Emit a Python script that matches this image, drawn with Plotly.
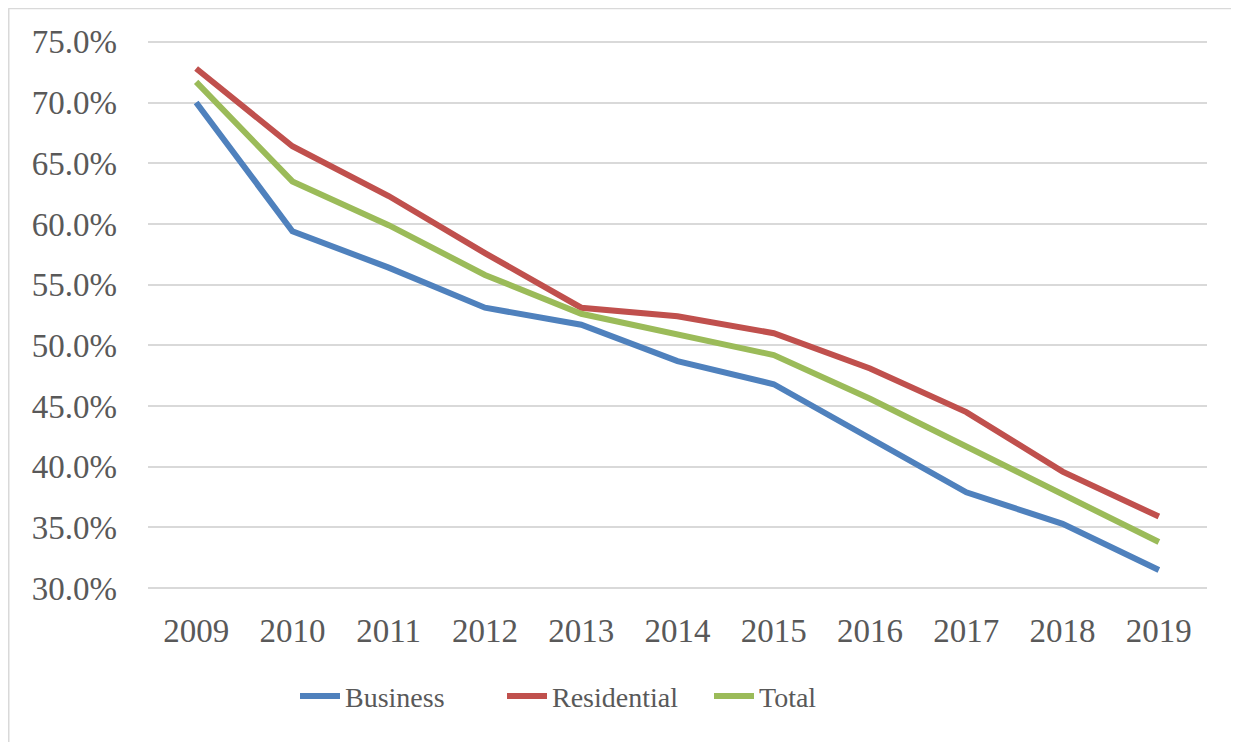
import plotly.graph_objects as go

years = ["2009", "2010", "2011", "2012", "2013", "2014", "2015", "2016", "2017", "2018", "2019"]
business = [70.0, 59.4, 56.4, 53.1, 51.7, 48.7, 46.8, 42.4, 37.9, 35.3, 31.5]
residential = [72.8, 66.4, 62.3, 57.6, 53.1, 52.4, 51.0, 48.1, 44.5, 39.6, 35.9]
total = [71.7, 63.5, 59.9, 55.8, 52.6, 50.9, 49.2, 45.6, 41.7, 37.7, 33.8]
y_ticks = [30, 35, 40, 45, 50, 55, 60, 65, 70, 75]
y_tick_labels = [f"{v:.1f}%" for v in y_ticks]

colors = {"Business": "#4F81BD", "Residential": "#C0504D", "Total": "#9BBB59"}
text_color = "#595959"
font_family = "Liberation Serif, Times New Roman, serif"

W, H = 1231, 734
ML, MR, MT, MB = 140, 32, 32.2, 152.2

fig = go.Figure()
for name, vals in [("Business", business), ("Residential", residential), ("Total", total)]:
    fig.add_trace(go.Scatter(
        x=years, y=vals, name=name, mode="lines",
        line=dict(color=colors[name], width=6, shape="linear"),
    ))

pw = W - ML - MR
ph = H - MT - MB
# chart-area border (top and left visible)
left_x = (0.5 - ML) / pw
top_y = (H - MB - 0.5) / ph
fig.add_shape(type="line", xref="paper", yref="paper", x0=left_x, x1=(W + 20 - ML) / pw,
              y0=top_y, y1=top_y, line=dict(color="#D9D9D9", width=2), layer="below")
fig.add_shape(type="line", xref="paper", yref="paper", x0=left_x, x1=left_x,
              y0=top_y, y1=-(MB + 20) / ph, line=dict(color="#D9D9D9", width=2), layer="below")

fig.update_layout(
    width=W, height=H,
    margin=dict(l=ML, r=MR, t=MT, b=MB, autoexpand=False),
    paper_bgcolor="white", plot_bgcolor="white",
    font=dict(family=font_family, color=text_color, size=33),
    showlegend=True,
    legend=dict(
        orientation="h", x=(597.5 - ML) / pw, xanchor="center",
        y=-(688 - (H - MB)) / ph, yanchor="middle",
        font=dict(size=28, color=text_color, family=font_family),
        itemwidth=40, traceorder="normal", entrywidth=152, entrywidthmode="pixels",
    ),
    xaxis=dict(
        type="category", range=[-0.5, 10.5], showgrid=False, zeroline=False,
        showline=False, ticks="", tickfont=dict(size=33), ticklabelstandoff=18,
    ),
    yaxis=dict(
        range=[29.85, 75.15], tickvals=y_ticks, ticktext=y_tick_labels,
        showgrid=True, gridcolor="#D9D9D9", gridwidth=1.5, zeroline=False,
        showline=False, ticks="", tickfont=dict(size=33), ticklabelstandoff=30,
    ),
)

fig.write_html("out.html")
